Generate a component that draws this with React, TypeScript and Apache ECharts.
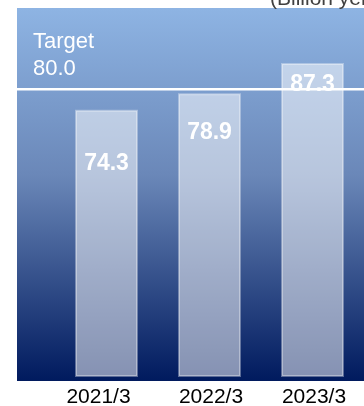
import React, { useEffect, useRef } from "react";
import * as echarts from "echarts";

const CATEGORIES = ["2021/3", "2022/3", "2023/3"];
const VALUES = [74.3, 78.9, 87.3];
const TARGET = 80.0;
const TARGET_NAME = "Target";
const UNIT = "(Billion yen)";
const Y_MAX = 102.6;

// style-only tweaks: label vertical positions inside bars, horizontal shift of axis labels
const LABEL_POS = [52, 38, 20];
const AXIS_SHIFT = [-8, 1.5, 1.5];

export default function App() {
  const ref = useRef<HTMLDivElement>(null);
  useEffect(() => {
    if (!ref.current) return;
    const chart = echarts.init(ref.current, null, { renderer: "svg" });
    const font = "'Liberation Sans', Arial, sans-serif";
    const rich: Record<string, any> = {};
    AXIS_SHIFT.forEach((s, i) => {
      rich["c" + i] = {
        color: "#000",
        fontSize: 21,
        fontFamily: font,
        padding: s < 0 ? [0, -2 * s, 0, 0] : [0, 0, 0, 2 * s],
      };
    });
    chart.setOption({
      animation: false,
      grid: { left: 55, width: 316, top: 8, bottom: 25 },
      xAxis: {
        type: "category",
        data: CATEGORIES,
        axisLine: { show: false },
        axisTick: { show: false },
        axisLabel: {
          interval: 0,
          hideOverlap: false,
          color: "#000",
          fontSize: 21,
          fontFamily: font,
          margin: 8,
          formatter: (v: string, i: number) => `{c${i}|${v}}`,
          rich,
        },
      },
      yAxis: { type: "value", min: 0, max: Y_MAX, show: false, splitLine: { show: false } },
      series: [
        {
          type: "bar",
          barWidth: 63,
          z: 5,
          data: VALUES.map((v, i) => ({
            value: v,
            label: {
              show: true,
              position: ["50%", LABEL_POS[i]],
              align: "center",
              verticalAlign: "middle",
              formatter: (p: any) => p.value.toFixed(1),
              color: "#fff",
              fontSize: 23,
              fontWeight: "bold",
              fontFamily: font,
            },
          })),
          itemStyle: {
            color: "rgba(255,255,255,0.52)",
            borderColor: "rgba(255,255,255,0.35)",
            borderWidth: 2,
          },
        },
      ],
    });
    const yT = chart.convertToPixel({ yAxisIndex: 0 }, TARGET) as number;
    chart.setOption({
      graphic: [
        {
          type: "rect",
          z: -10,
          shape: { x: 17, y: 8, width: 360, height: 373 },
          style: {
            fill: new echarts.graphic.LinearGradient(0, 0, 0, 1, [
              { offset: 0, color: "#8EB4E3" },
              { offset: 0.45, color: "#6A87B8" },
              { offset: 1, color: "#001A5E" },
            ]),
          },
        },
        {
          type: "line",
          z: 20,
          shape: { x1: 17, y1: yT, x2: 364, y2: yT },
          style: { stroke: "#fff", lineWidth: 2.5 },
        },
        {
          type: "text",
          z: 20,
          x: 33,
          y: 27,
          style: {
            text: TARGET_NAME + "\n" + TARGET.toFixed(1),
            fill: "#fff",
            font: `22px ${font}`,
            lineHeight: 27,
            verticalAlign: "top",
          },
        },
        {
          type: "text",
          z: 20,
          x: 270,
          y: -3,
          style: {
            text: UNIT,
            fill: "#404040",
            font: `21px ${font}`,
            verticalAlign: "middle",
          },
        },
      ],
    });
    return () => chart.dispose();
  }, []);
  return (
    <div
      ref={ref}
      style={{ position: "fixed", left: 0, top: 0, width: 364, height: 406 }}
    />
  );
}
